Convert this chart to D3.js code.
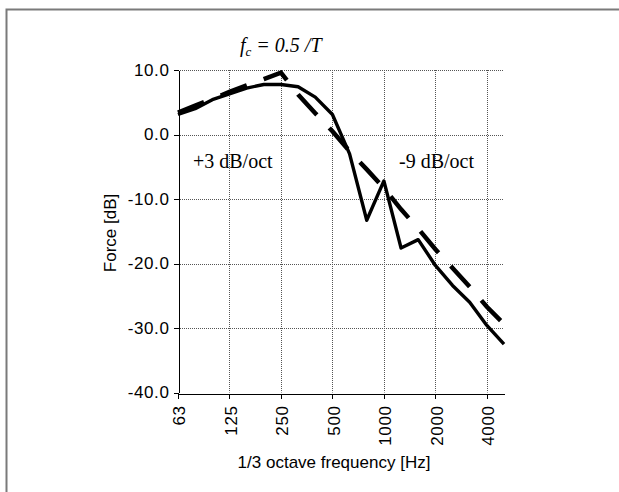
<!DOCTYPE html>
<html>
  <head>
    <meta charset="utf-8" />
    <title>Force spectrum</title>
    <style>
      body { margin: 0; background: #fff; }
      .grid line { stroke: #555; stroke-width: 1px; stroke-dasharray: 1, 1; }
      .axis path, .axis line { stroke: #000; stroke-width: 1px; shape-rendering: crispEdges; }
      .axis text { font: 17px "Liberation Sans", Arial, sans-serif; fill: #000; letter-spacing: 0.6px; }
      .title { font: 17px "Liberation Sans", Arial, sans-serif; fill: #000; }
      .note { font: 20px "Liberation Serif", "Times New Roman", serif; fill: #000; }
    </style>
  </head>
  <body>
    <svg width="619" height="492"></svg>

    <script src="https://d3js.org/d3.v7.min.js"></script>
    <script>
      // 1/3 octave band centre frequencies
      const categories = ["63", "80", "100", "125", "160", "200", "250", "315", "400", "500",
        "630", "800", "1000", "1250", "1600", "2000", "2500", "3150", "4000", "5000"];

      // measured force spectrum (solid)
      const measured = [3.1, 4.0, 5.4, 6.3, 7.2, 7.75, 7.75, 7.4, 5.8, 3.1,
        -3.0, -13.3, -7.2, -17.6, -16.3, -20.3, -23.4, -26.0, -29.6, -32.5];

      // model: +3 dB/oct then -9 dB/oct (dashed)
      const model = [3.4, 4.5, 5.5, 6.6, 7.6, 8.6, 9.6, 6.2, 3.3, 0.5,
        -2.6, -5.4, -8.3, -11.6, -14.6, -17.8, -20.7, -23.6, -26.7, -29.4];

      const yTicks = [10, 0, -10, -20, -30, -40];
      const xTickLabels = ["63", "125", "250", "500", "1000", "2000", "4000"];

      const svg = d3.select("svg");

      // outer frame (top and left edge visible)
      svg.append("path")
        .attr("d", "M6.5,492V9.5H619")
        .attr("fill", "none")
        .attr("stroke", "#7a7a7a")
        .attr("stroke-width", 2);

      const x = d3.scalePoint().domain(categories).range([178, 504]);
      const y = d3.scaleLinear().domain([-40, 10]).range([392.5, 70]);

      // gridlines
      const grid = svg.append("g").attr("class", "grid");
      grid.selectAll(".h")
        .data(yTicks.filter((d) => d > -40))
        .join("line")
        .attr("x1", x("63"))
        .attr("x2", x("5000"))
        .attr("y1", (d) => Math.round(y(d)) + 0.5)
        .attr("y2", (d) => Math.round(y(d)) + 0.5);
      grid.selectAll(".v")
        .data(xTickLabels.slice(1))
        .join("line")
        .attr("x1", (d) => Math.round(x(d)) + 0.5)
        .attr("x2", (d) => Math.round(x(d)) + 0.5)
        .attr("y1", y(10))
        .attr("y2", y(-40));

      // axes
      svg.append("g")
        .attr("class", "axis")
        .attr("transform", `translate(${Math.round(x("63")) + 0.5},0)`)
        .call(d3.axisLeft(y).tickValues(yTicks).tickSize(5).tickSizeOuter(0).tickPadding(4)
          .tickFormat((d) => d.toFixed(1)));

      const xAxis = svg.append("g")
        .attr("class", "axis")
        .attr("transform", `translate(0,${Math.round(y(-40)) + 0.5})`)
        .call(d3.axisBottom(x).tickValues(xTickLabels).tickSize(5).tickSizeOuter(0));

      xAxis.selectAll("text")
        .attr("text-anchor", "end")
        .attr("transform", "translate(0,3) rotate(-90)")
        .attr("x", -9)
        .attr("y", 0)
        .attr("dy", "0.4em");

      // lines
      const line = d3.line()
        .x((d, i) => x(categories[i]))
        .y((d) => y(d));

      svg.append("path")
        .datum(measured)
        .attr("d", line)
        .attr("fill", "none")
        .attr("stroke", "#000")
        .attr("stroke-width", 3.4)
        .attr("stroke-linejoin", "round");

      svg.append("path")
        .datum(model)
        .attr("d", line)
        .attr("fill", "none")
        .attr("stroke", "#000")
        .attr("stroke-width", 4.5)
        .attr("stroke-dasharray", "28,18");

      // axis titles
      svg.append("text")
        .attr("class", "title")
        .attr("x", 334)
        .attr("y", 468)
        .attr("text-anchor", "middle")
        .text("1/3 octave frequency [Hz]");

      svg.append("text")
        .attr("class", "title")
        .attr("transform", "translate(116,233) rotate(-90)")
        .attr("text-anchor", "middle")
        .text("Force [dB]");

      // annotations
      const fc = svg.append("text")
        .attr("class", "note")
        .attr("x", 240)
        .attr("y", 52)
        .style("font-style", "italic");
      fc.append("tspan").text("f");
      fc.append("tspan").attr("dy", 4).style("font-size", "13px").text("c");
      fc.append("tspan").attr("dy", -4).text(" = 0.5 /T");

      svg.append("text")
        .attr("class", "note")
        .attr("x", 193)
        .attr("y", 168)
        .text("+3 dB/oct");

      svg.append("text")
        .attr("class", "note")
        .attr("x", 399)
        .attr("y", 168)
        .text("-9 dB/oct");
    </script>
  </body>
</html>
